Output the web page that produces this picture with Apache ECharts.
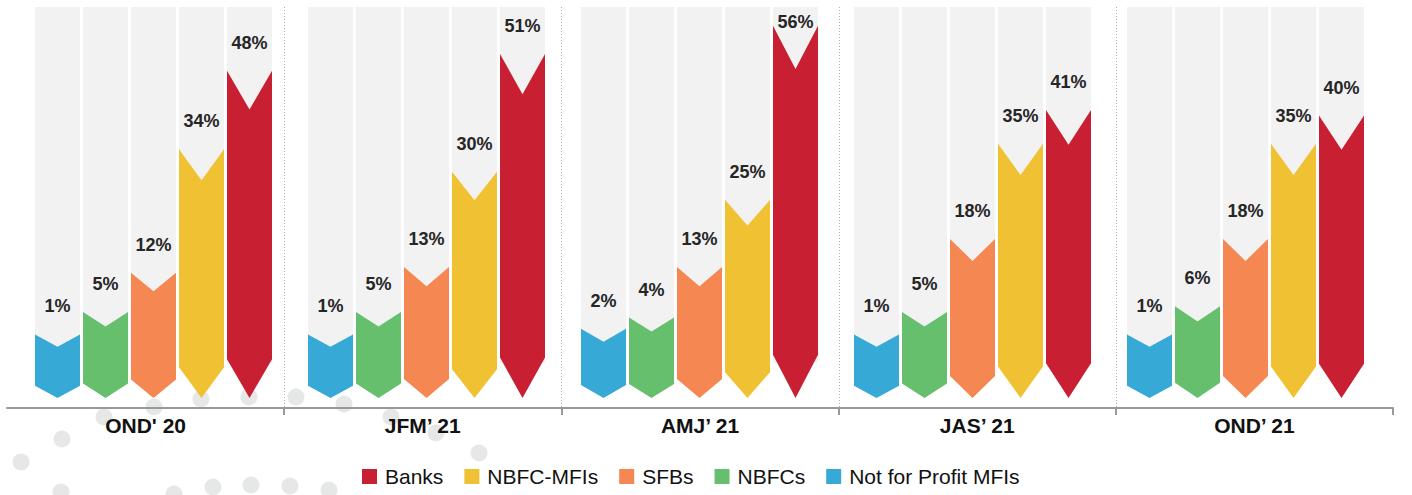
<!DOCTYPE html>
<html><head><meta charset="utf-8">
<script src="https://cdn.jsdelivr.net/npm/echarts@6/dist/echarts.min.js"></script>
<style>html,body{margin:0;padding:0;background:#fff}#c{width:1412px;height:495px}</style>
</head><body><div id="c"></div>
<script>
const categories = ["OND' 20", "JFM’ 21", "AMJ’ 21", "JAS’ 21", "OND’ 21"];
const notForProfitMFIs = [1, 1, 2, 1, 1];
const nbfcs = [5, 5, 4, 5, 6];
const sfbs = [12, 13, 13, 18, 18];
const nbfcMfis = [34, 30, 25, 35, 35];
const banks = [48, 51, 56, 41, 40];
const legendOrder = ['Banks', 'NBFC-MFIs', 'SFBs', 'NBFCs', 'Not for Profit MFIs'];

const seriesDefs = [
  { name: 'Not for Profit MFIs', values: notForProfitMFIs, color: '#36A9D7' },
  { name: 'NBFCs', values: nbfcs, color: '#66BF6D' },
  { name: 'SFBs', values: sfbs, color: '#F58852' },
  { name: 'NBFC-MFIs', values: nbfcMfis, color: '#F0C233' },
  { name: 'Banks', values: banks, color: '#C82032' }
];

const FONT = '"Liberation Sans", Arial, Helvetica, sans-serif';
const BAR_W = 45, STEP = 48;

function makeRender(k, color) {
  return function (params, api) {
    const ci = api.value(0), v = api.value(1);
    const c = api.coord([ci, v]);
    const zero = api.coord([ci, 0])[1];
    const top = params.coordSys.y;
    const cx = c[0] + (k - 2) * STEP;
    const l = cx - BAR_W / 2, r = cx + BAR_W / 2;
    const tip = zero + 58;
    const sh = c[1];
    const d = 0.1 * (tip - sh) + 6;
    return {
      type: 'group',
      children: [
        { type: 'rect', shape: { x: l, y: top, width: BAR_W, height: zero + 23 - top }, style: { fill: '#F2F2F2' } },
        { type: 'polygon', shape: { points: [[l, sh], [cx, sh + d], [r, sh], [r, tip - d], [cx, tip], [l, tip - d]] }, style: { fill: color } },
        { type: 'text', x: cx, y: Math.max(sh - 28, top + 15), style: { text: v + '%', fill: '#262626', font: 'bold 18px ' + FONT, align: 'center', verticalAlign: 'middle' } }
      ]
    };
  };
}

const dots = [[296,397],[344,404],[391,417],[436,433],[479,453],[201,399],[249,397],[154,407],[104,417],[62,439],[21,462],[61,492],[174,494],[213,487],[251,485],[290,486],[329,490]];

const chart = echarts.init(document.getElementById('c'), null, { renderer: 'svg' });
const series = seriesDefs.map((s, k) => ({
  type: 'custom', name: s.name, xAxisIndex: 0, yAxisIndex: 0,
  itemStyle: { color: s.color },
  renderItem: makeRender(k, s.color),
  data: s.values.map((v, i) => [i, v]),
  encode: { x: 0, y: 1 },
  z: 3
}));
series.push({
  type: 'custom', name: 'sep', xAxisIndex: 1, yAxisIndex: 1, silent: true, z: 1,
  data: [[1, 0], [2, 0], [3, 0], [4, 0]],
  encode: { x: 0, y: 1 },
  renderItem: function (params, api) {
    const band = api.size([1, 0])[0];
    const x = Math.round(api.coord([api.value(0), 0])[0] - band / 2) + 0.5;
    const cs = params.coordSys;
    return { type: 'line', shape: { x1: x, y1: cs.y, x2: x, y2: cs.y + cs.height }, style: { stroke: '#B0B0B0', lineWidth: 1, lineDash: [1, 2] } };
  }
});

chart.setOption({
  animation: false,
  backgroundColor: '#fff',
  graphic: dots.map(p => ({ type: 'circle', shape: { cx: p[0], cy: p[1], r: 8.5 }, style: { fill: '#E6E7E7' }, z: -10, silent: true })),
  grid: [
    { left: 17, right: 30, top: 7, bottom: 155 },
    { left: 7, right: 19, top: 7, bottom: 87 }
  ],
  xAxis: [
    { type: 'category', gridIndex: 0, data: categories, show: false },
    { type: 'category', gridIndex: 1, data: categories,
      axisLine: { show: true, lineStyle: { color: '#999', width: 2 } },
      axisTick: { show: true, length: 7, interval: function (i) { return i > 0; }, lineStyle: { color: '#999', width: 2 } },
      axisLabel: { interval: 0, margin: 7, fontSize: 21, fontWeight: 'bold', color: '#111', fontFamily: FONT },
      splitLine: { show: false }, z: 5 }
  ],
  yAxis: [
    { type: 'value', gridIndex: 0, min: 0, max: 59.36, show: false },
    { type: 'value', gridIndex: 1, min: 0, max: 1, show: false }
  ],
  legend: {
    data: legendOrder, left: 362, top: 466, padding: 0, icon: 'rect', itemWidth: 15, itemHeight: 15, itemGap: 21,
    textStyle: { fontSize: 21, color: '#111', fontFamily: FONT, padding: [0, 0, 0, 3] },
    selectedMode: false
  },
  series: series
});
</script></body></html>
